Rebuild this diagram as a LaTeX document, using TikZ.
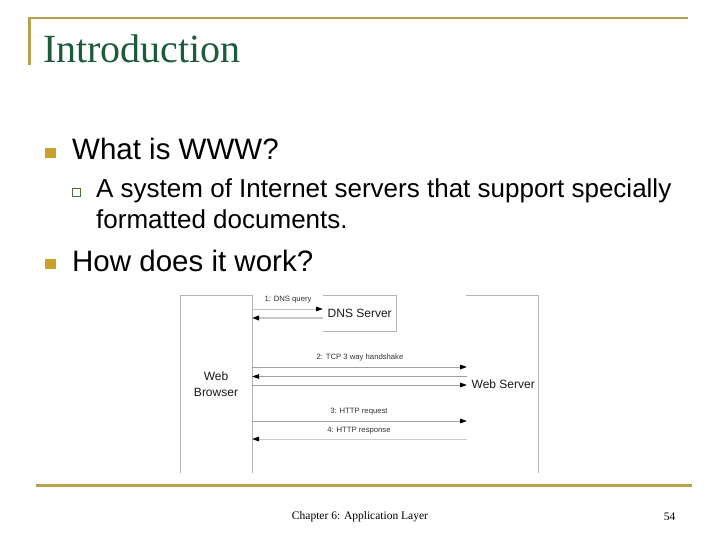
\documentclass[tikz,border=0pt]{standalone}
\usepackage{fontspec}
\setmainfont{Liberation Serif}
\newfontfamily\arial{Liberation Sans}
\usetikzlibrary{arrows.meta}
\definecolor{gold}{HTML}{B8A24E}
\definecolor{titlegreen}{HTML}{1D5C3A}
\definecolor{bulletgold}{HTML}{C9A02C}
\definecolor{subgreen}{HTML}{4E6E3E}
\definecolor{boxgray}{HTML}{B4B4B4}
\definecolor{arrgray}{HTML}{A0A0A0}
\tikzset{
  txt/.style={anchor=base west, inner sep=0pt},
  mainbul/.style={fill=bulletgold, minimum size=10.5pt, inner sep=0pt},
  subbul/.style={draw=subgreen, line width=0.8pt, minimum size=8pt, inner sep=0pt},
  boxline/.style={draw=boxgray, line width=0.8pt},
  msg/.style={draw=arrgray, line width=0.8pt, -{Triangle[length=7pt,width=4.5pt,color=black]}},
  lbl/.style={font=\arial\fontsize{7.7}{9}\selectfont, text=black!80, inner sep=0pt},
  ent/.style={font=\arial\fontsize{12}{15.5}\selectfont, text=black!90, inner sep=0pt},
}
\begin{document}
\begin{tikzpicture}[x=1pt,y=-1pt]
\useasboundingbox (0,0) rectangle (720,540);
\fill[white] (0,0) rectangle (720,540);
% frame lines
\draw[gold, line width=2.2pt] (29.5,65) -- (29.5,18) -- (688,18);
\draw[gold, line width=2.5pt] (36,485.5) -- (692,485.5);
% title
\node[txt, text=titlegreen, font=\fontsize{40}{48}\selectfont] (title) at (43,63) {Introduction};
% bullets
\node[mainbul] (b1) at (50.5,153) {};
\node[txt, font=\arial\fontsize{29.5}{35}\selectfont] (t1) at (72,160) {What is WWW?};
\node[subbul] (sb1) at (76.5,192.5) {};
\node[txt, font=\arial\fontsize{26}{31}\selectfont] (t2) at (96,198) {A system of Internet servers that support specially};
\node[txt, font=\arial\fontsize{26}{31}\selectfont] (t3) at (96,228.5) {formatted documents.};
\node[mainbul] (b2) at (50.5,264) {};
\node[txt, font=\arial\fontsize{29.5}{35}\selectfont] (t4) at (72,271.5) {How does it work?};
% diagram boxes
\draw[boxline] (180.5,473) -- (180.5,295.5) -- (252,295.5) -- (252,473);
\draw[boxline] (323,295.5) -- (396,295.5) -- (396,331) -- (323,331);
\draw[boxline] (466,295.5) -- (538.5,295.5) -- (538.5,473);
\node[ent, align=center] (wb) at (216,384) {Web\\Browser};
\node[ent, anchor=west] (dnss) at (327.5,313) {DNS Server};
\node[ent, anchor=west] (wss) at (471.5,384.5) {Web Server};
% endpoints
\coordinate (q1a) at (252,309);  \coordinate (q1b) at (323,309);
\coordinate (q2a) at (252,318);  \coordinate (q2b) at (323,318);
\coordinate (h1a) at (252,367);  \coordinate (h1b) at (467,367);
\coordinate (h2a) at (252,376.5);\coordinate (h2b) at (467,376.5);
\coordinate (h3a) at (252,385);  \coordinate (h3b) at (467,385);
\coordinate (r1a) at (252,421);  \coordinate (r1b) at (467,421);
\coordinate (r2a) at (252,439);  \coordinate (r2b) at (467,439);
% messages
\draw[msg, draw=black!25] (q1a) -- (q1b);
\draw[msg, draw=black!22, line width=2pt] (q2b) -- (q2a);
\draw[msg] (h1a) -- (h1b);
\draw[msg] (h2b) -- (h2a);
\draw[msg] (h3a) -- (h3b);
\draw[msg] (r1a) -- (r1b);
\draw[msg, draw=black!20] (r2b) -- (r2a);
% labels
\node[lbl] (l1) at (288,300) {1: DNS query};
\node[lbl] (l2) at (360,358) {2: TCP 3 way handshake};
\node[lbl] (l3) at (359,412) {3: HTTP request};
\node[lbl] (l4) at (359,430.5) {4: HTTP response};
% footer
\node[font=\fontsize{11.5}{14}\selectfont, inner sep=0pt] (foot) at (360,517) {Chapter 6: Application Layer};
\node[font=\fontsize{11.5}{14}\selectfont, inner sep=0pt] (pg) at (669.5,517) {54};
\end{tikzpicture}
\end{document}
